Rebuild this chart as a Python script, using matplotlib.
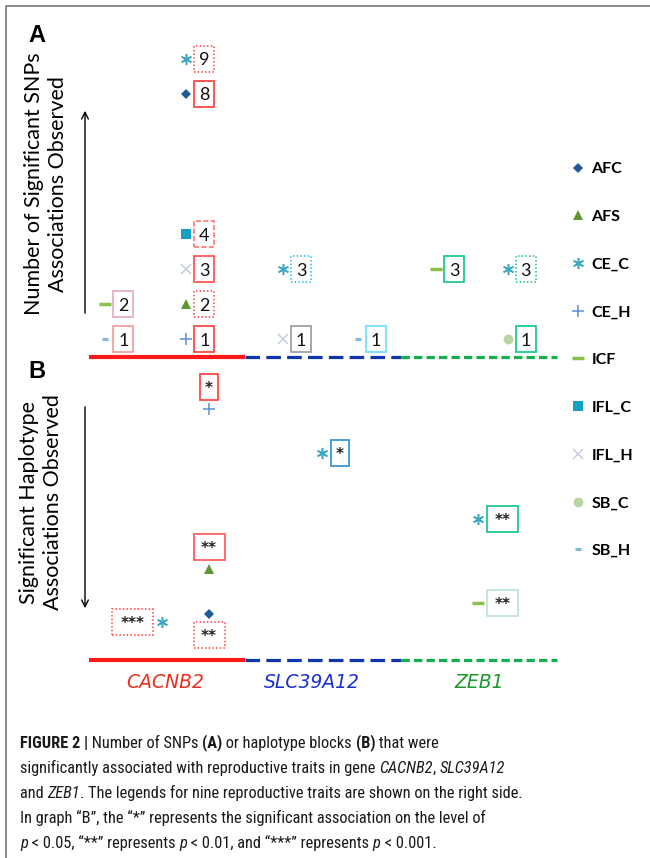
import numpy as np
import matplotlib
matplotlib.use("Agg")
import matplotlib.pyplot as plt
from matplotlib import transforms
from matplotlib.patches import Rectangle, FancyArrowPatch
from matplotlib.lines import Line2D

# Data ------------------------------------------------------------------------
genes = ["CACNB2", "SLC39A12", "ZEB1"]
traits = ["AFC", "AFS", "CE_C", "CE_H", "ICF", "IFL_C", "IFL_H", "SB_C", "SB_H"]

# Panel A: number of significant SNPs per gene / trait
snp_gene = ["CACNB2", "CACNB2", "CACNB2", "CACNB2", "CACNB2", "CACNB2", "CACNB2",
            "CACNB2", "SLC39A12", "SLC39A12", "SLC39A12", "ZEB1", "ZEB1", "ZEB1"]
snp_trait = ["SB_H", "ICF", "CE_H", "AFS", "IFL_H", "IFL_C", "AFC",
             "CE_C", "CE_C", "IFL_H", "SB_H", "ICF", "CE_C", "SB_C"]
snp_count = [1, 2, 1, 2, 3, 4, 8, 9, 3, 1, 1, 3, 3, 1]
snp_col = [0, 0, 1, 1, 1, 1, 1, 1, 0, 0, 1, 0, 1, 1]

# Panel B: significant haplotype blocks
hap_gene = ["CACNB2", "SLC39A12", "ZEB1", "CACNB2", "ZEB1", "CACNB2", "CACNB2"]
hap_trait = ["CE_H", "CE_C", "CE_C", "AFS", "ICF", "CE_C", "AFC"]
hap_stars = ["*", "*", "**", "**", "**", "***", "**"]
hap_level = [9.4, 7.15, 4.85, 3.9, 1.95, 1.3, 0.85]
hap_col = [1, 0, 0, 1, 0, 0, 1]

# Layout / style --------------------------------------------------------------
W, H = 650, 858
gene_colors = ["#e8301c", "#1a2fd0", "#1a9a2a"]
line_colors = ["#ff1a1a", "#1035b0", "#10b050"]
snp_colpos = {"CACNB2": [0.22, 0.74], "SLC39A12": [0.36, 0.84], "ZEB1": [0.34, 0.80]}
hap_colpos = {"CACNB2": [0.28, 0.77], "SLC39A12": [0.61], "ZEB1": [0.65]}

mstyle = {
    "AFC":   dict(marker="D", color="#1f5a96", ms=5.5, mew=0),
    "AFS":   dict(marker="^", color="#5e9632", ms=7.5, mew=0),
    "CE_C":  dict(marker=(6, 2, 0), color="#3aa6c0", ms=8, mew=1.1),
    "CE_H":  dict(marker="+", color="#5b8fd0", ms=8, mew=1.1),
    "ICF":   dict(marker="_", color="#8cc04a", ms=9, mew=2.5),
    "IFL_C": dict(marker="s", color="#14a0c0", ms=6.5, mew=0),
    "IFL_H": dict(marker="x", color="#c5cbe2", ms=7, mew=1.1),
    "SB_C":  dict(marker="o", color="#b8d4a0", ms=7, mew=0),
    "SB_H":  dict(marker="_", color="#80b8d8", ms=4.5, mew=2.2),
}

snp_box_color = ["#f4a0a4", "#e4b4c0", "#ff4848", "#ff5050", "#ff5858", "#ff8080",
                 "#ff4848", "#ff5050", "#30c0ee", "#a0a0a0", "#70e0f4",
                 "#20c890", "#20c890", "#20c890"]
snp_box_ls = ["-", "-", "-", ":", "-", "--", "-", ":", ":", "-", "-", "-", ":", "-"]
hap_box_color = ["#ff4848", "#3399dd", "#20c890", "#ff6060", "#c0e4d4", "#ff5050", "#ff5050"]
hap_box_ls = ["-", "-", "-", "-", "-", ":", ":"]
hap_mark_side = ["below", "left", "left", "below", "left", "right", "above"]

plt.rcParams["lines.scale_dashes"] = False
chart_font = ["Lato", "DejaVu Sans"]

fig = plt.figure(figsize=(6.5, 8.58), dpi=100)


def fx(px):
    return px / W


def fy(py):
    return 1 - py / H


def box_w(txt):
    if txt == "*":
        return 18
    if txt == "**":
        return 31
    if txt == "***":
        return 41
    return 20


def draw_box(ax, x, y, txt, color, ls, star=False):
    w, h = box_w(txt), 26
    tr = fig.dpi_scale_trans + transforms.ScaledTranslation(x, y, ax.transData)
    ax.add_patch(Rectangle((-w / 200, -h / 200), w / 100, h / 100, transform=tr,
                           facecolor="white", edgecolor=color, lw=1.3, ls=ls,
                           clip_on=False, zorder=3))
    if star:
        ax.text(x, y, txt, ha="center", va="center_baseline", fontsize=11,
                fontweight="bold", family="DejaVu Sans", color="#222222", zorder=4)
    else:
        ax.text(x, y, txt, ha="center", va="center_baseline", fontsize=13,
                family=chart_font, color="#111111", zorder=4)
    return w, h


def draw_marker(ax, x, y, trait, dx, dy):
    tr = ax.transData + transforms.ScaledTranslation(dx / 100, dy / 100, fig.dpi_scale_trans)
    ax.plot([x], [y], ls="none", transform=tr, clip_on=False, zorder=3, **mstyle[trait])


def baseline(ax, y0):
    ax.plot([0, 1], [y0, y0], color=line_colors[0], lw=3, solid_capstyle="butt", clip_on=False)
    ax.plot([1, 2], [y0, y0], color=line_colors[1], lw=2.3, dashes=(10.5, 4.5), clip_on=False)
    ax.plot([2, 3], [y0, y0], color=line_colors[2], lw=2.3, dashes=(6, 3), clip_on=False)


# Panel A ---------------------------------------------------------------------
axA = fig.add_axes([fx(89), fy(357), fx(557) - fx(89), fy(20) - fy(357)])
axA.set_xlim(0, 3)
axA.set_ylim(0.5, 10.1)
axA.axis("off")
baseline(axA, 0.5)
for g, t, c, col, bc, ls in zip(snp_gene, snp_trait, snp_count, snp_col,
                                snp_box_color, snp_box_ls):
    x = genes.index(g) + snp_colpos[g][col]
    w, h = draw_box(axA, x, c, str(c), bc, ls)
    draw_marker(axA, x, c, t, -(w / 2 + 8), 0)

# Panel B ---------------------------------------------------------------------
axB = fig.add_axes([fx(89), fy(660), fx(557) - fx(89), fy(370) - fy(660)])
axB.set_xlim(0, 3)
axB.set_ylim(0, 10)
axB.axis("off")
baseline(axB, 0)
for g, t, s, lv, col, bc, ls, side in zip(hap_gene, hap_trait, hap_stars, hap_level,
                                          hap_col, hap_box_color, hap_box_ls,
                                          hap_mark_side):
    x = genes.index(g) + hap_colpos[g][col]
    w, h = draw_box(axB, x, lv, s, bc, ls, star=True)
    off = {"left": (-(w / 2 + 9), 0), "right": (w / 2 + 9, 0),
           "below": (0, -(h / 2 + 9)), "above": (0, h / 2 + 8)}[side]
    draw_marker(axB, x, lv, t, *off)

gene_label_x = [0.49, 1.43, 2.5]
for i, g in enumerate(genes):
    axB.annotate(g, xy=(gene_label_x[i], 0), xytext=(0, -23), textcoords="offset pixels",
                 ha="center", va="center", fontsize=13.5, style="italic",
                 family="DejaVu Sans", color=gene_colors[i], annotation_clip=False)

# Legend ----------------------------------------------------------------------
handles = [Line2D([], [], ls="none", **mstyle[t]) for t in traits]
fig.legend(handles, traits, loc="upper left", bbox_to_anchor=(fx(562), fy(154)),
           frameon=False, handlelength=1.0, handletextpad=0.35, labelspacing=2.1,
           borderpad=0, prop=dict(family=chart_font, size=11.5, weight="bold"))

# Axis captions, panel letters, arrows ---------------------------------------
fig.text(fx(46), fy(184), "Number of Significant SNPs\nAssociations Observed",
         rotation=90, ha="center", va="center", multialignment="center",
         fontsize=15.5, family=chart_font, linespacing=1.2)
fig.text(fx(41), fy(502), "Significant Haplotype\nAssociations Observed",
         rotation=90, ha="center", va="center", multialignment="center",
         fontsize=15.5, family=chart_font, linespacing=1.2)
fig.text(fx(37), fy(35), "A", ha="center", va="center", fontsize=17,
         fontweight="bold", family="Liberation Sans")
fig.text(fx(37), fy(372), "B", ha="center", va="center", fontsize=17,
         fontweight="bold", family="Liberation Sans")
fig.add_artist(FancyArrowPatch((fx(85), fy(316)), (fx(85), fy(108)),
                               transform=fig.transFigure, arrowstyle="->",
                               mutation_scale=12, lw=1, color="black"))
fig.add_artist(FancyArrowPatch((fx(85), fy(404)), (fx(85), fy(611)),
                               transform=fig.transFigure, arrowstyle="->",
                               mutation_scale=12, lw=1, color="black"))

# Frame -----------------------------------------------------------------------
fig.add_artist(Line2D([fx(6), fx(6), 1], [0, fy(6), fy(6)], transform=fig.transFigure,
                      color="#8a8a8a", lw=1.4))

# Caption ---------------------------------------------------------------------
cap_font = ["Liberation Sans Narrow", "DejaVu Sans Condensed", "Roboto Condensed",
            "Open Sans Condensed", "Liberation Sans"]
cap_size = 11.8
caption = [
    [("FIGURE 2 |", "bold", "normal"), (" Number of SNPs ", "normal", "normal"),
     ("(A)", "bold", "normal"), (" or haplotype blocks ", "normal", "normal"),
     ("(B)", "bold", "normal"), (" that were", "normal", "normal")],
    [("significantly associated with reproductive traits in gene ", "normal", "normal"),
     ("CACNB2", "normal", "italic"), (", ", "normal", "normal"),
     ("SLC39A12", "normal", "italic")],
    [("and ", "normal", "normal"), ("ZEB1", "normal", "italic"),
     (". The legends for nine reproductive traits are shown on the right side.", "normal", "normal")],
    [("In graph \u201cB\u201d, the \u201c*\u201d represents the significant association on the level of",
      "normal", "normal")],
    [("p", "normal", "italic"), (" < 0.05, \u201c**\u201d represents ", "normal", "normal"),
     ("p", "normal", "italic"), (" < 0.01, and \u201c***\u201d represents ", "normal", "normal"),
     ("p", "normal", "italic"), (" < 0.001.", "normal", "normal")],
]
cap_base = [748, 773, 798, 823, 848]
for parts, yb in zip(caption, cap_base):
    s, wt, st = parts[0]
    prev = fig.text(fx(20), fy(yb), s, fontsize=cap_size, family=cap_font, weight=wt,
                    style=st, stretch="condensed", va="baseline", color="#1a1a1a")
    for s, wt, st in parts[1:]:
        prev = plt.annotate(s, xy=(1, 0), xycoords=prev, va="bottom", fontsize=cap_size,
                            family=cap_font, weight=wt, style=st, stretch="condensed",
                            color="#1a1a1a")

fig.savefig("out.png", dpi=100)
